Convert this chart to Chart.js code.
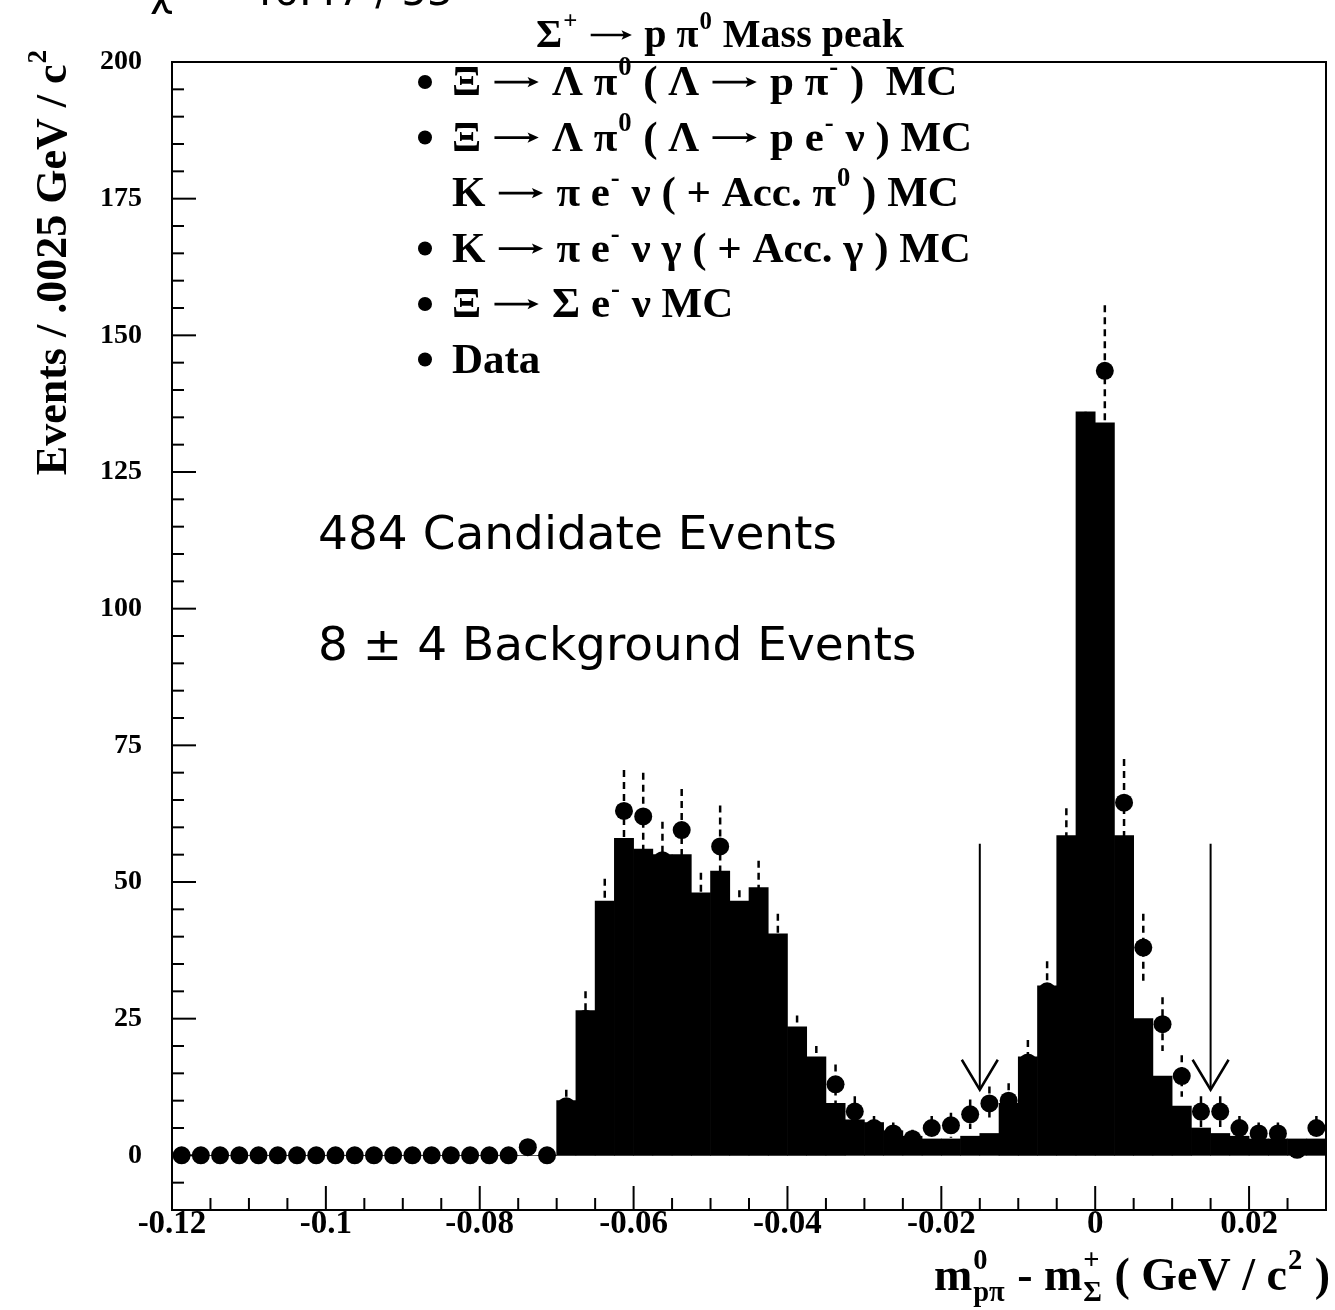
<!DOCTYPE html>
<html lang="en">
<head>
<meta charset="UTF-8" />
<title>Sigma+ to p pi0 mass peak</title>
<script src="https://cdn.jsdelivr.net/npm/chart.js"></script>
<style>
  body { margin: 0; background: #fff; }
  canvas { display: block; }
</style>
</head>
<body>
<canvas id="chart" width="1335" height="1310"></canvas>
<script>
// bin centres (bins are .0025 GeV wide, -0.12 .. 0.03)
const binCentres = [
  -0.11875, -0.11625, -0.11375, -0.11125, -0.10875, -0.10625, -0.10375, -0.10125, -0.09875, -0.09625,
  -0.09375, -0.09125, -0.08875, -0.08625, -0.08375, -0.08125, -0.07875, -0.07625, -0.07375, -0.07125,
  -0.06875, -0.06625, -0.06375, -0.06125, -0.05875, -0.05625, -0.05375, -0.05125, -0.04875, -0.04625,
  -0.04375, -0.04125, -0.03875, -0.03625, -0.03375, -0.03125, -0.02875, -0.02625, -0.02375, -0.02125,
  -0.01875, -0.01625, -0.01375, -0.01125, -0.00875, -0.00625, -0.00375, -0.00125, 0.00125, 0.00375,
  0.00625, 0.00875, 0.01125, 0.01375, 0.01625, 0.01875, 0.02125, 0.02375, 0.02625, 0.02875
];

// summed MC histogram
const mcCounts = [
  0, 0, 0, 0, 0, 0, 0, 0, 0, 0,
  0, 0, 0, 0, 0, 0, 0, 0, 0, 0,
  10, 26.5, 46.5, 58, 56, 55, 55, 48, 52, 46.5,
  49, 40.5, 23.5, 18, 9.5, 6.5, 6, 4.5, 3.5, 3,
  3, 3.5, 4, 9.5, 18, 31, 58.5, 136, 134, 58.5,
  25, 14.5, 9, 5, 4, 3.5, 3, 3, 3, 3
];

// data points and their errors
const dataCounts = [
  0, 0, 0, 0, 0, 0, 0, 0, 0, 0,
  0, 0, 0, 0, 0, 0, 0, 0, 1.5, 0,
  9, 25, 44, 63, 62, 54, 59.5, 45, 56.5, 42,
  47, 38, 21, 16, 13, 8, 5, 4, 3, 5,
  5.5, 7.5, 9.5, 10, 17, 30, 56, 125, 143.5, 64.5,
  38, 24, 14.5, 8, 8, 5, 4, 4, 1, 5
];
const dataErrors = [
  0, 0, 0, 0, 0, 0, 0, 0, 0, 0,
  0, 0, 0, 0, 0, 0, 0, 0, 1.2, 0,
  3, 5, 6.6, 7.5, 8, 7, 7.5, 6.7, 7.5, 6.5,
  6.9, 6.2, 4.6, 4, 3.6, 2.8, 2.2, 2, 1.7, 2.2,
  2.3, 2.7, 3.1, 3.2, 4.1, 5.5, 7.5, 11, 12, 8,
  6.2, 4.9, 3.8, 2.8, 2.8, 2.2, 2, 2, 1, 2.2
];
const binHalfWidth = 0.00125;

// signal window arrows
const cutPositions = [-0.015, 0.015];
const arrowTop = 57;
const arrowTip = 12;

const xTickValues = [-0.12, -0.1, -0.08, -0.06, -0.04, -0.02, 0, 0.02];
const xTickLabels = ['-0.12', '-0.1', '-0.08', '-0.06', '-0.04', '-0.02', '0', '0.02'];
const yTickValues = [0, 25, 50, 75, 100, 125, 150, 175, 200];
const yTickLabels = ['0', '25', '50', '75', '100', '125', '150', '175', '200'];

const ARROW = { arrow: true };
const legendLines = [
  { bullet: true, parts: [{ t: 'Ξ ' }, ARROW, { t: ' Λ π' }, { sup: '0' }, { t: ' ( Λ ' }, ARROW, { t: ' p π' }, { sup: '-' }, { t: ' )  MC' }] },
  { bullet: true, parts: [{ t: 'Ξ ' }, ARROW, { t: ' Λ π' }, { sup: '0' }, { t: ' ( Λ ' }, ARROW, { t: ' p e' }, { sup: '-' }, { t: ' ν ) MC' }] },
  { bullet: false, parts: [{ t: 'K ' }, ARROW, { t: ' π e' }, { sup: '-' }, { t: ' ν ( + Acc. π' }, { sup: '0' }, { t: ' ) MC' }] },
  { bullet: true, parts: [{ t: 'K ' }, ARROW, { t: ' π e' }, { sup: '-' }, { t: ' ν γ ( + Acc. γ ) MC' }] },
  { bullet: true, parts: [{ t: 'Ξ ' }, ARROW, { t: ' Σ e' }, { sup: '-' }, { t: ' ν MC' }] },
  { bullet: true, parts: [{ t: 'Data' }] }
];
const titleParts = [{ t: 'Σ' }, { sup: '+' }, { t: ' ' }, ARROW, { t: ' p π' }, { sup: '0' }, { t: ' Mass peak' }];
const xTitleParts = [{ t: 'm' }, { sup: '0', sub: 'pπ' }, { t: ' - m' }, { sup: '+', sub: 'Σ' }, { t: ' ( GeV / c' }, { sup: '2' }, { t: ' )' }];
const yTitleParts = [{ t: 'Events / .0025 GeV / c' }, { sup: '2' }];
const notes = ['484 Candidate Events', '8 ± 4 Background Events'];
const fitNote = 'χ² = 46.47 / 53';

const SERIF = '"Liberation Serif", "Times New Roman", serif';

function partWidth(ctx, p, size) {
  if (p.arrow) return size * 1.15;
  if (p.t !== undefined) {
    ctx.font = `bold ${size}px ${SERIF}`;
    return ctx.measureText(p.t).width;
  }
  ctx.font = `bold ${size * 0.62}px ${SERIF}`;
  const a = p.sup ? ctx.measureText(p.sup).width : 0;
  const b = p.sub ? ctx.measureText(p.sub).width : 0;
  return Math.max(a, b) + 2;
}

// long bold arrow like the typeset one
function drawArrowGlyph(ctx, x, y, size) {
  const ay = y - size * 0.3;
  const x0 = x + size * 0.06;
  const x1 = x + size * 1.09;
  ctx.lineWidth = size * 0.065;
  ctx.beginPath();
  ctx.moveTo(x0, ay);
  ctx.lineTo(x1 - size * 0.15, ay);
  ctx.stroke();
  ctx.beginPath();
  ctx.moveTo(x1, ay);
  ctx.lineTo(x1 - size * 0.26, ay - size * 0.12);
  ctx.lineTo(x1 - size * 0.2, ay);
  ctx.lineTo(x1 - size * 0.26, ay + size * 0.12);
  ctx.closePath();
  ctx.fill();
}

function drawRich(ctx, parts, x, y, size, align) {
  const w = parts.reduce((s, p) => s + partWidth(ctx, p, size), 0);
  let cx = align === 'center' ? x - w / 2 : align === 'right' ? x - w : x;
  ctx.textAlign = 'left';
  ctx.textBaseline = 'alphabetic';
  for (const p of parts) {
    const adv = partWidth(ctx, p, size);
    if (p.arrow) {
      drawArrowGlyph(ctx, cx, y, size);
    } else if (p.t !== undefined) {
      ctx.fillText(p.t, cx, y);
    } else {
      if (p.sup) ctx.fillText(p.sup, cx + 1, y - size * 0.46);
      if (p.sub) ctx.fillText(p.sub, cx + 1, y + size * 0.24);
    }
    cx += adv;
  }
}

const decorations = {
  id: 'decorations',
  afterDraw(chart) {
    const ctx = chart.ctx;
    const xs = chart.scales.x;
    const ys = chart.scales.y;
    const a = chart.chartArea;
    ctx.save();
    ctx.fillStyle = '#000';
    ctx.strokeStyle = '#000';

    // data error bars: dashed vertical, short solid horizontal
    binCentres.forEach((x, i) => {
      const px = xs.getPixelForValue(x);
      const py = ys.getPixelForValue(dataCounts[i]);
      ctx.lineWidth = 3;
      ctx.setLineDash([]);
      ctx.beginPath();
      ctx.moveTo(xs.getPixelForValue(x - binHalfWidth * 0.8), py);
      ctx.lineTo(xs.getPixelForValue(x + binHalfWidth * 0.8), py);
      ctx.stroke();
      if (!dataErrors[i]) return;
      ctx.lineWidth = 2.5;
      ctx.setLineDash([7, 5]);
      ctx.beginPath();
      ctx.moveTo(px, ys.getPixelForValue(dataCounts[i] + dataErrors[i]));
      ctx.lineTo(px, ys.getPixelForValue(dataCounts[i] - dataErrors[i]));
      ctx.stroke();
    });
    ctx.setLineDash([]);

    // frame
    ctx.lineWidth = 2;
    ctx.strokeRect(a.left, a.top, a.right - a.left, a.bottom - a.top);

    // inward ticks
    for (let v = -5; v <= 200; v += 5) {
      const py = ys.getPixelForValue(v);
      const len = v % 25 === 0 ? 24 : 12;
      ctx.beginPath();
      ctx.moveTo(a.left, py);
      ctx.lineTo(a.left + len, py);
      ctx.stroke();
    }
    for (let k = 1; k < 30; k++) {
      const px = xs.getPixelForValue(-0.12 + k * 0.005);
      const len = k % 4 === 0 ? 24 : 12;
      ctx.beginPath();
      ctx.moveTo(px, a.bottom);
      ctx.lineTo(px, a.bottom - len);
      ctx.stroke();
    }

    // cut arrows
    cutPositions.forEach(c => {
      const px = xs.getPixelForValue(c);
      const y0 = ys.getPixelForValue(arrowTop);
      const y1 = ys.getPixelForValue(arrowTip);
      ctx.lineWidth = 2;
      ctx.beginPath();
      ctx.moveTo(px, y0);
      ctx.lineTo(px, y1);
      ctx.stroke();
      ctx.lineWidth = 2.5;
      ctx.beginPath();
      ctx.moveTo(px - 18, y1 - 30);
      ctx.lineTo(px, y1);
      ctx.lineTo(px + 18, y1 - 30);
      ctx.stroke();
    });

    // title
    drawRich(ctx, titleParts, 720, 47, 40, 'center');

    // legend
    legendLines.forEach((line, i) => {
      const by = 95 + i * 55.5;
      if (line.bullet) {
        ctx.beginPath();
        ctx.arc(425, by - 13, 7, 0, Math.PI * 2);
        ctx.fill();
      }
      drawRich(ctx, line.parts, 452, by, 43, 'left');
    });

    // notes
    ctx.font = '47px "DejaVu Sans", sans-serif';
    ctx.textAlign = 'left';
    ctx.textBaseline = 'alphabetic';
    ctx.fillText(notes[0], 318, 549);
    ctx.fillText(notes[1], 318, 660);

    // fit result, cut off by the top edge
    ctx.font = '40px "DejaVu Sans", sans-serif';
    ctx.fillText(fitNote, 150, 5);

    // axis titles
    drawRich(ctx, xTitleParts, 1330, 1290, 46, 'right');
    ctx.save();
    ctx.translate(66, 262);
    ctx.rotate(-Math.PI / 2);
    drawRich(ctx, yTitleParts, 0, 0, 44, 'center');
    ctx.restore();

    ctx.restore();
  }
};

new Chart(document.getElementById('chart'), {
  type: 'bar',
  data: {
    datasets: [
      {
        type: 'line',
        label: 'Data',
        data: binCentres.map((x, i) => ({ x, y: dataCounts[i] })),
        showLine: false,
        pointRadius: 9,
        pointHoverRadius: 9,
        pointBackgroundColor: '#000',
        pointBorderColor: '#000',
        pointBorderWidth: 0
      },
      {
        type: 'bar',
        label: 'MC',
        data: binCentres.map((x, i) => ({ x, y: mcCounts[i] })),
        backgroundColor: '#000',
        borderWidth: 0,
        barPercentage: 1,
        categoryPercentage: 1
      }
    ]
  },
  options: {
    responsive: false,
    animation: false,
    layout: { padding: { left: 0, top: 62, right: 5, bottom: 0 } },
    plugins: { legend: { display: false }, tooltip: { enabled: false } },
    scales: {
      x: {
        type: 'linear',
        offset: false,
        min: -0.12,
        max: 0.03,
        grid: { display: false, drawTicks: false },
        border: { display: false },
        afterBuildTicks: s => { s.ticks = xTickValues.map(v => ({ value: v })); },
        afterFit: s => { s.height = 100; },
        ticks: {
          autoSkip: false,
          maxRotation: 0,
          padding: -5,
          color: '#000',
          font: { family: SERIF, size: 33, weight: 'bold' },
          callback: (v, i) => xTickLabels[i]
        }
      },
      y: {
        min: -10,
        max: 200,
        grid: { display: false, drawTicks: false },
        border: { display: false },
        afterBuildTicks: s => { s.ticks = yTickValues.map(v => ({ value: v })); },
        afterFit: s => { s.width = 172; },
        ticks: {
          padding: 30,
          color: '#000',
          font: { family: SERIF, size: 28, weight: 'bold' },
          callback: (v, i) => yTickLabels[i]
        }
      }
    }
  },
  plugins: [decorations]
});
</script>
</body>
</html>
